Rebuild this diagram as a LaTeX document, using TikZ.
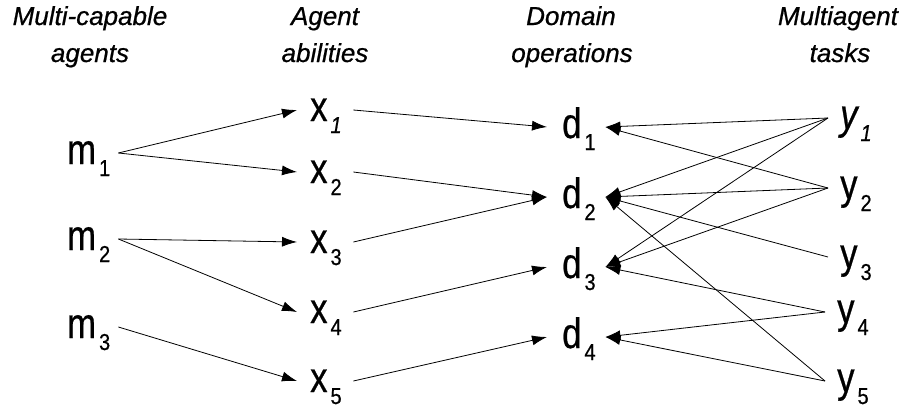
\documentclass[tikz,border=0pt]{standalone}
\usepackage{fontspec}
\setmainfont{Liberation Sans}
\newfontfamily\heavy{Liberation Sans}[FakeBold=0.7]
\usetikzlibrary{arrows.meta}
\newcommand\letr[1]{\scalebox{1.02}[1.25]{#1}}
\newcommand\sublab[1]{\kern3pt\raisebox{-12pt}{\scalebox{1}[1.15]{\fontsize{20}{20}\selectfont #1}}}
\begin{document}
\begin{tikzpicture}[x=1pt,y=-1pt,
  hdr/.style={font=\heavy\fontsize{26}{30}\selectfont\itshape, anchor=base, inner sep=0pt},
  lab/.style={font=\heavy\fontsize{34}{34}\selectfont, anchor=west, inner ysep=0pt,
              text height=22pt, text depth=0pt},
  arr/.style={-{Latex[length=15pt,width=10pt]}, line width=0.8pt}]
\useasboundingbox (0,0) rectangle (913,408);

% headers
\node[hdr] (h1a) at (90,25) {Multi-capable};
\node[hdr] (h1b) at (90,62) {agents};
\node[hdr] (h2a) at (325,25) {Agent};
\node[hdr] (h2b) at (325,62) {abilities};
\node[hdr] (h3a) at (571,25) {Domain};
\node[hdr] (h3b) at (572,62) {operations};
\node[hdr] (h4a) at (838,25) {Multiagent};
\node[hdr] (h4b) at (840,62) {tasks};

% agents
\node[lab, inner xsep=18pt] (m1) at (49,153) {\makebox[33pt][l]{\letr{m}\sublab{1}}};
\node[lab, inner xsep=18pt] (m2) at (49,239) {\makebox[33pt][l]{\letr{m}\sublab{2}}};
\node[lab, inner xsep=18pt] (m3) at (49,327) {\makebox[33pt][l]{\letr{m}\sublab{3}}};

% abilities
\node[lab, inner xsep=13pt] (x1) at (297,110) {\makebox[30pt][l]{\letr{x}\sublab{\itshape 1}}};
\node[lab, inner xsep=13pt] (x2) at (297,172) {\makebox[30pt][l]{\letr{x}\sublab{2}}};
\node[lab, inner xsep=13pt] (x3) at (297,242) {\makebox[30pt][l]{\letr{x}\sublab{3}}};
\node[lab, inner xsep=13pt] (x4) at (297,312) {\makebox[30pt][l]{\letr{x}\sublab{4}}};
\node[lab, inner xsep=13pt] (x5) at (297,381) {\makebox[30pt][l]{\letr{x}\sublab{5}}};

% operations
\node[lab, inner xsep=15pt] (d1) at (547,127) {\makebox[28pt][l]{\letr{d}\sublab{1}}};
\node[lab, inner xsep=15pt] (d2) at (547,197) {\makebox[28pt][l]{\letr{d}\sublab{2}}};
\node[lab, inner xsep=15pt] (d3) at (547,267) {\makebox[28pt][l]{\letr{d}\sublab{3}}};
\node[lab, inner xsep=15pt] (d4) at (547,337) {\makebox[28pt][l]{\letr{d}\sublab{4}}};

% tasks
\node[lab, inner xsep=12pt] (y1) at (828,118) {\makebox[30pt][l]{\letr{\itshape y}\sublab{\itshape 1}}};
\node[lab, inner xsep=12pt] (y2) at (828,188) {\makebox[30pt][l]{\letr{y}\sublab{2}}};
\node[lab, inner xsep=12pt] (y3) at (828,257) {\makebox[30pt][l]{\letr{y}\sublab{3}}};
\node[lab, inner xsep=12pt] (y4) at (825,312) {\makebox[30pt][l]{\letr{y}\sublab{4}}};
\node[lab, inner xsep=12pt] (y5) at (825,381) {\makebox[30pt][l]{\letr{y}\sublab{5}}};

% agents -> abilities
\draw[arr] (m1.east) -- (x1.west);
\draw[arr] (m1.east) -- (x2.west);
\draw[arr] (m2.east) -- (x3.west);
\draw[arr] (m2.east) -- (x4.west);
\draw[arr] (m3.east) -- (x5.west);

% abilities -> operations
\draw[arr] (x1.east) -- (d1.west);
\draw[arr] (x2.east) -- (d2.west);
\draw[arr] (x3.east) -- (d2.west);
\draw[arr] (x4.east) -- (d3.west);
\draw[arr] (x5.east) -- (d4.west);

% tasks -> operations
\draw[arr] (y1.west) -- (d1.east);
\draw[arr] (y1.west) -- (d2.east);
\draw[arr] (y1.west) -- (d3.east);
\draw[arr] (y2.west) -- (d1.east);
\draw[arr] (y2.west) -- (d2.east);
\draw[arr] (y2.west) -- (d3.east);
\draw[arr] (y3.west) -- (d2.east);
\draw[arr] (y4.west) -- (d3.east);
\draw[arr] (y4.west) -- (d4.east);
\draw[arr] (y5.west) -- (d4.east);
\draw[arr] (y5.west) -- (d2.east);
\end{tikzpicture}
\end{document}
